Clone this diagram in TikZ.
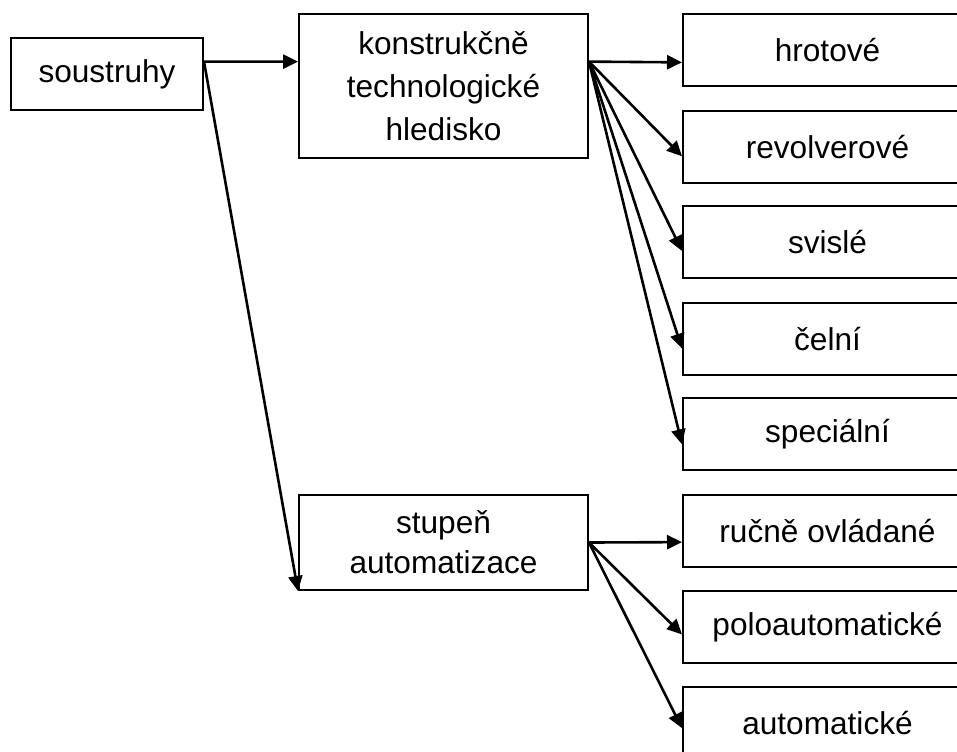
\documentclass[tikz,border=0pt]{standalone}
\usepackage{fontspec}
\setmainfont{Liberation Sans}
\usetikzlibrary{arrows.meta,calc}

\begin{document}
\begin{tikzpicture}[x=0.5pt,y=-0.5pt,
    box/.style={draw,line width=1pt,anchor=north west,inner sep=0pt,align=center,
        font=\fontsize{15.8pt}{21.5pt}\selectfont},
    leaf/.style={box,minimum width=144.5pt,minimum height=36pt},
    arr/.style={line width=1.3pt,-{Triangle[length=7.5pt,width=7pt]}}]
        \clip (0,0) rectangle (957,751);
        \node[box,minimum width=96pt,minimum height=36pt] (sous) at (10,37) {soustruhy};
        \node[box,minimum width=144.5pt,minimum height=72pt] (konstr) at (298,13) {konstrukčně\\technologické\\hledisko};
        \node[box,minimum width=144.5pt,minimum height=47.5pt,
            font=\fontsize{15.8pt}{20pt}\selectfont] (stupen) at (298,494) {stupeň\\automatizace};
        \node[leaf] (hrot) at (682,13) {hrotové};
        \node[leaf] (rev) at (682,110) {revolverové};
        \node[leaf] (svis) at (682,205) {svislé};
        \node[leaf] (cel) at (682,302) {čelní};
        \node[leaf] (spec) at (682,397) {speciální};
        \node[leaf] (rucne) at (682,494) {ručně ovládané};
        \node[leaf] (polo) at (682,590) {poloautomatické};
        \node[leaf] (auto) at (682,686) {automatické};
        % branch points
        \coordinate (sout) at ($(sous.north east)!0.333!(sous.south east)$);
        \coordinate (kout) at ($(konstr.north east)!0.333!(konstr.south east)$);
        \draw[arr] (sout) -- ($(konstr.north west)!0.333!(konstr.south west)$);
        \draw[arr] (sout) -- (stupen.south west);
        \foreach \t/\f in {hrot/0.667,rev/0.625,svis/0.62,cel/0.63,spec/0.64}
            \draw[arr] (kout) -- ($(\t.north west)!\f!(\t.south west)$);
        \foreach \t/\f in {rucne/0.65,polo/0.6,auto/0.57}
            \draw[arr] (stupen.east) -- ($(\t.north west)!\f!(\t.south west)$);
    \end{tikzpicture}
\end{document}
